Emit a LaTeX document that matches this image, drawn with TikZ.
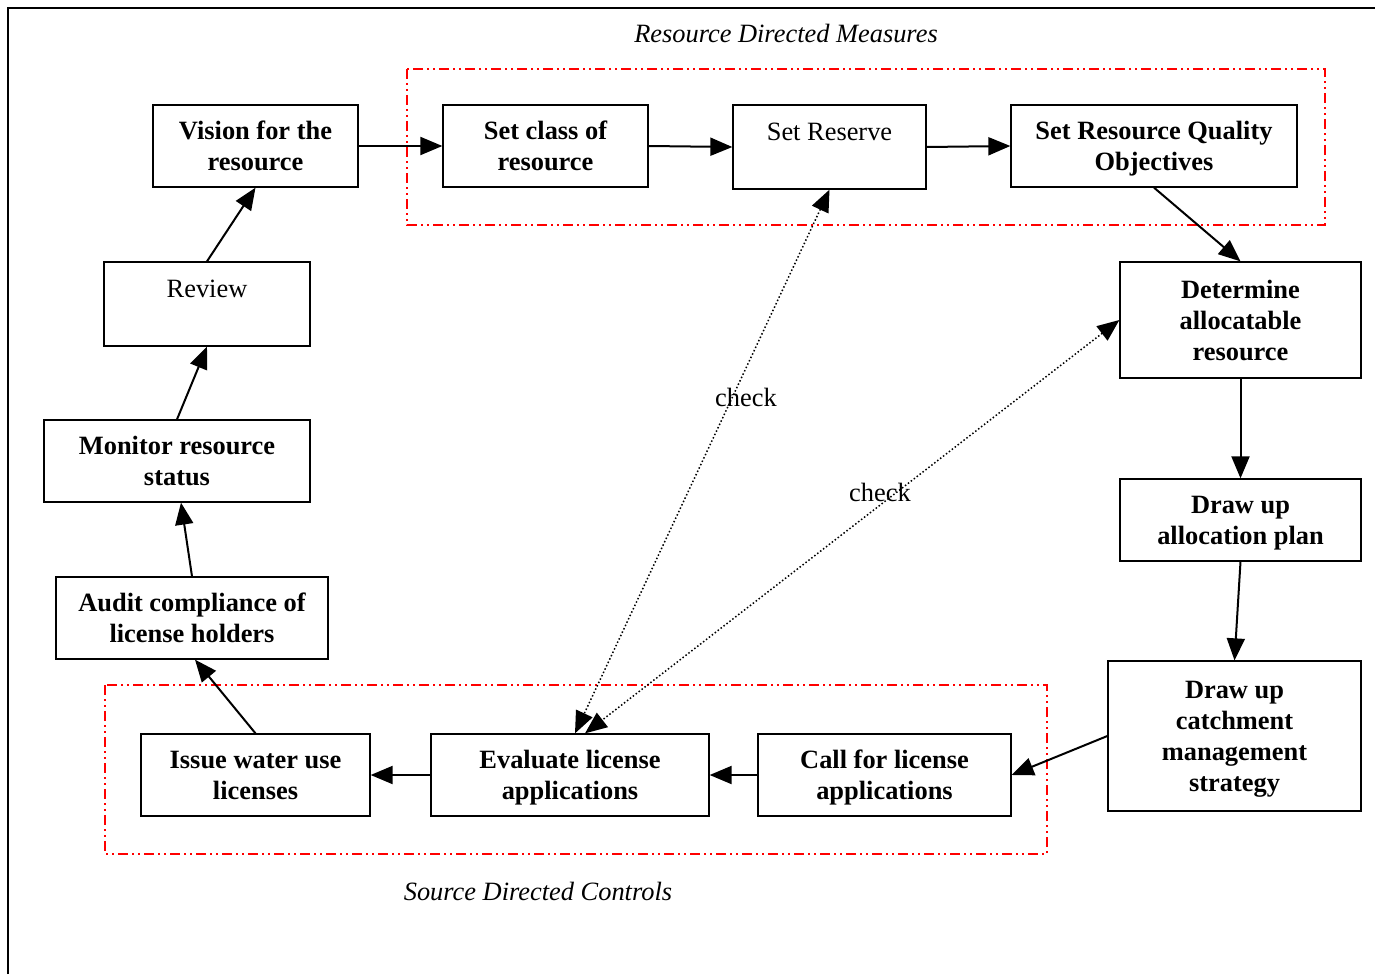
\documentclass[tikz,border=0pt]{standalone}
\usepackage{fontspec}
\setmainfont{Liberation Serif}
\usetikzlibrary{arrows.meta,calc}
\newcommand\topstrut{\rule{0pt}{13.85pt}}
\begin{document}
\begin{tikzpicture}[x=0.5pt,y=-0.5pt,
  box/.style n args={2}{draw, line width=0.65pt, inner sep=0pt, align=center,
    minimum width=#1*0.5pt, minimum height=#2*0.5pt,
    font=\fontsize{13.2}{15.5}\selectfont\bfseries},
  rbox/.style n args={2}{box={#1}{#2}, font=\fontsize{13.2}{15.5}\selectfont},
  conn/.style={line width=1pt, -{Triangle[length=11pt,width=9pt]}},
  chk/.style={line width=0.75pt, dash pattern=on 0.75pt off 1.1pt, {Triangle[length=11pt,width=9pt]}-{Triangle[length=11pt,width=9pt]}},
  region/.style={draw=red, line width=0.75pt, dash pattern=on 5pt off 2pt on 1pt off 2pt on 1pt off 2pt},
  lbl/.style={font=\fontsize{13.2}{15.5}\selectfont},
  ttl/.style={font=\fontsize{13.2}{15.5}\selectfont\itshape}]
\useasboundingbox (0,0) rectangle (1375,974);
% frame
\draw[line width=1pt] (8,974) -- (8,8) -- (1375,8);
% regions
\draw[region] (407,69) rectangle (1325,225);
\draw[region] (105,685) rectangle (1047,854);
\node[ttl] (t1) at (786,33) {Resource Directed Measures};
\node[ttl] (t2) at (538,891) {Source Directed Controls};
% nodes
\node[box={205}{82}] (vision) at (255.5,146) {\topstrut Vision for the\\resource\strut};
\node[box={205}{82}] (setclass) at (545.5,146) {\topstrut Set class of\\resource\strut};
\node[rbox={193}{84}] (reserve) at (829.5,147) {\topstrut Set Reserve\\\strut};
\node[box={286}{82}] (rqo) at (1154,146) {\topstrut Set Resource Quality\\Objectives\strut};
\node[box={241}{116}] (determine) at (1240.5,320) {\topstrut Determine\\allocatable\\resource\strut};
\node[box={241}{82}] (alloc) at (1240.5,520) {\topstrut Draw up\\allocation plan\strut};
\node[box={253}{150}] (catch) at (1234.5,736) {\topstrut Draw up\\catchment\\management\\strategy\strut};
\node[box={253}{82}] (call) at (884.5,775) {\topstrut Call for license\\applications\strut};
\node[box={278}{82}] (eval) at (570,775) {\topstrut Evaluate license\\applications\strut};
\node[box={229}{82}] (issue) at (255.5,775) {\topstrut Issue water use\\licenses\strut};
\node[box={272}{82}] (audit) at (192,618) {\topstrut Audit compliance of\\license holders\strut};
\node[box={266}{82}] (monitor) at (177,461) {\topstrut Monitor resource\\status\strut};
\node[rbox={206}{84}] (review) at (207,304) {\topstrut Review\\\strut};
% connectors
\draw[conn] (vision.east) -- (setclass.west);
\draw[conn] (setclass.east) -- (reserve.west);
\draw[conn] (reserve.east) -- (rqo.west);
\draw[conn] (rqo.south) -- (determine.north);
\draw[conn] (determine.south) -- (alloc.north);
\draw[conn] (alloc.south) -- (catch.north);
\draw[conn] (catch.west) -- (call.east);
\draw[conn] (call.west) -- (eval.east);
\draw[conn] (eval.west) -- (issue.east);
\draw[conn] (issue.north) -- ([xshift=1.5pt]audit.south);
\draw[conn] (audit.north) -- ([xshift=2pt]monitor.south);
\draw[conn] (monitor.north) -- (review.south);
\draw[conn] (review.north) -- (vision.south);
\draw[chk] (reserve.south) -- ([xshift=2.5pt]eval.north);
\draw[chk] (determine.west) -- ([xshift=7.5pt]eval.north);
\node[lbl] (c1) at (746,397) {check};
\node[lbl] (c2) at (880,492) {check};
\end{tikzpicture}
\end{document}
